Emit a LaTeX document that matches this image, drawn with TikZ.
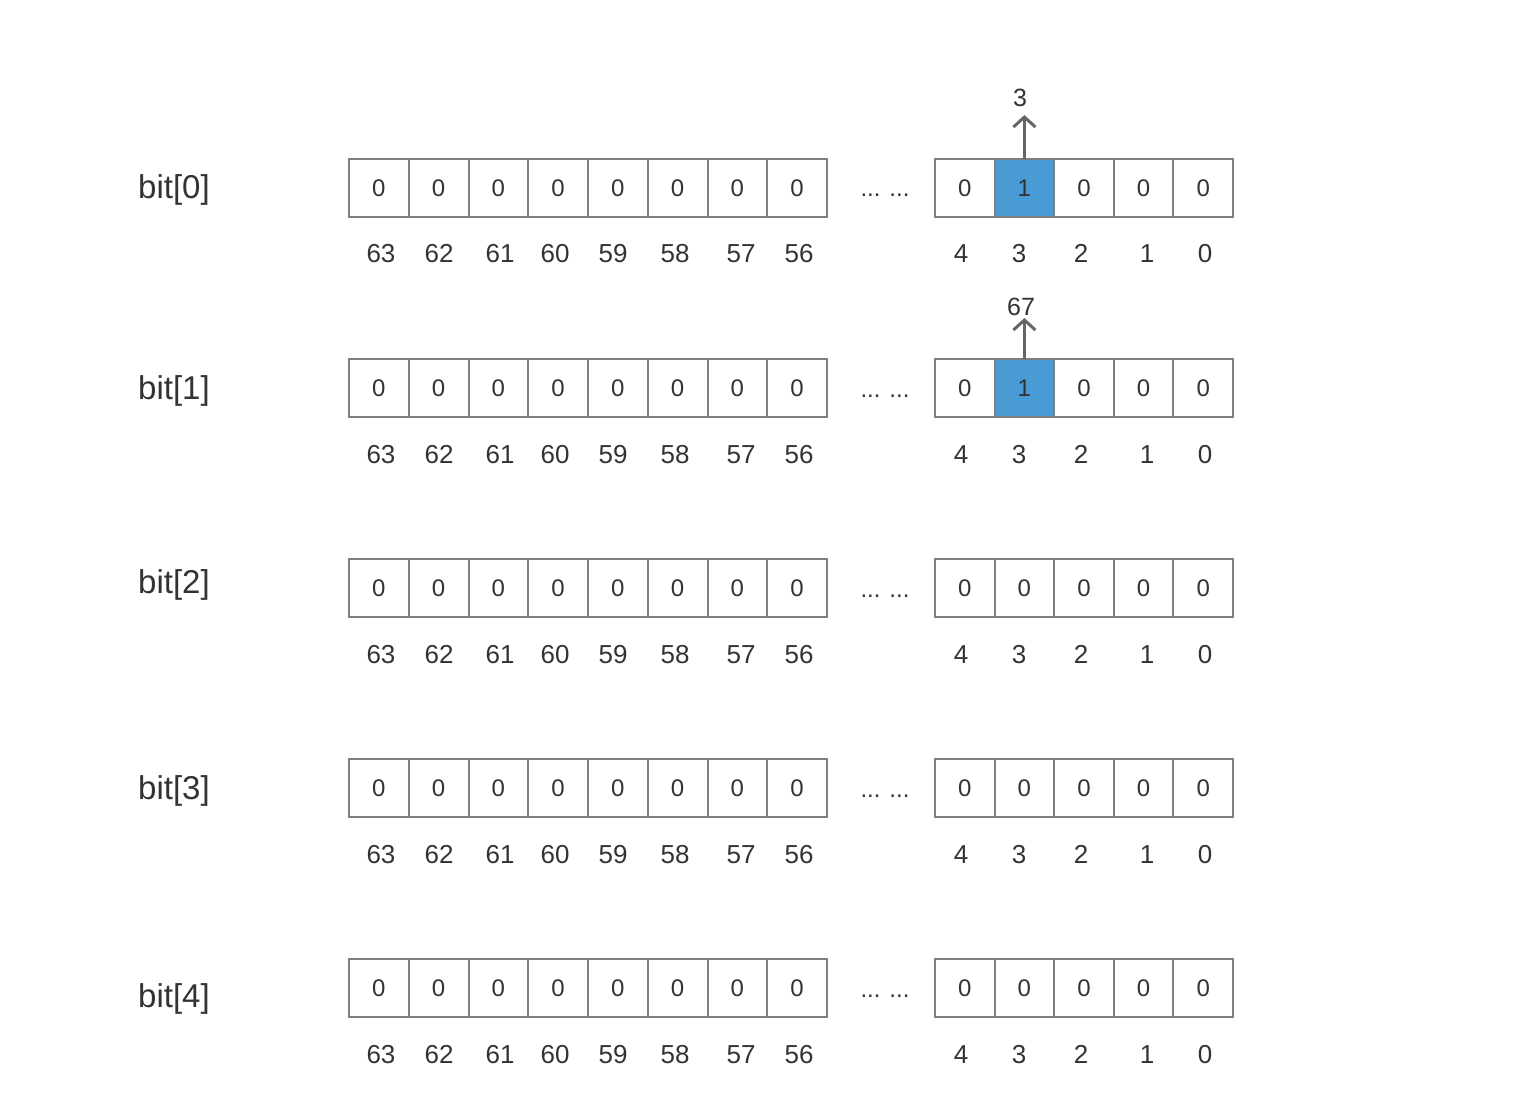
\documentclass[tikz,border=0pt]{standalone}
\usepackage{fontspec}
\setmainfont{Liberation Sans}
\usetikzlibrary{arrows.meta}
\definecolor{cellline}{HTML}{7F7F7F}
\definecolor{cellblue}{HTML}{4A9BD4}
\definecolor{txt}{HTML}{333333}
\definecolor{arrowgray}{HTML}{666666}
\tikzset{
  cell/.style={draw=cellline, line width=2pt, minimum width=59.75pt, minimum height=58pt,
    inner sep=0pt, outer sep=0pt, text=txt, font=\fontsize{24}{24}\selectfont},
  cellR/.style={cell, minimum width=59.6pt},
  hot/.style={fill=cellblue},
  idx/.style={text=txt, anchor=base, inner sep=0pt, font=\fontsize{26}{26}\selectfont},
  rowlabel/.style={text=txt, anchor=base west, inner sep=0pt, font=\fontsize{33}{33}\selectfont},
  dots/.style={text=txt, anchor=base, inner sep=0pt, font=\fontsize{24}{24}\selectfont},
  ptr/.style={draw=arrowgray, line width=3pt, -{Straight Barb[length=10pt,width=22pt]}},
  ptrlabel/.style={text=txt, anchor=base, inner sep=0pt, font=\fontsize{25}{25}\selectfont}
}
\begin{document}
\begin{tikzpicture}[x=1pt,y=-1pt]
\useasboundingbox[fill=white] (0,0) rectangle (1532,1102);
\foreach \r/\lb in {0/199,1/399,2/593,3/799,4/1007}{
  \pgfmathsetmacro{\top}{159+200*\r}
  \node[rowlabel] (lab\r) at (138,\lb) {bit[\r]};
  \foreach \i in {0,...,7}{
    \node[cell] (L\r c\i) at ({349+59.75*(\i+0.5)},{\top+29}) {0};
  }
  \foreach \j in {0,...,4}{
    \ifnum\r<2
      \ifnum\j=1
        \node[cellR,hot] (R\r c\j) at ({935+59.6*(\j+0.5)},{\top+29}) {1};
      \else
        \node[cellR] (R\r c\j) at ({935+59.6*(\j+0.5)},{\top+29}) {0};
      \fi
    \else
      \node[cellR] (R\r c\j) at ({935+59.6*(\j+0.5)},{\top+29}) {0};
    \fi
  }
  \node[dots] (dots\r) at (885,{\top+38}) {... ...};
  \foreach \n/\x [count=\k] in {63/381,62/439,61/500,60/555,59/613,58/675,57/741,56/799,4/961,3/1019,2/1081,1/1147,0/1205}{
    \node[idx] (i\r n\k) at (\x,{\top+104}) {\n};
  }
}
% pointers
\coordinate (tipA) at (1022,115);
\coordinate (tipB) at (1022,318);
\draw[ptr] (R0c1.north) -- (R0c1.north |- tipA);
\draw[ptr] (R1c1.north) -- (R1c1.north |- tipB);
\node[ptrlabel] (pA) at (1020,107) {3};
\node[ptrlabel] (pB) at (1021,315) {67};
\end{tikzpicture}
\end{document}
